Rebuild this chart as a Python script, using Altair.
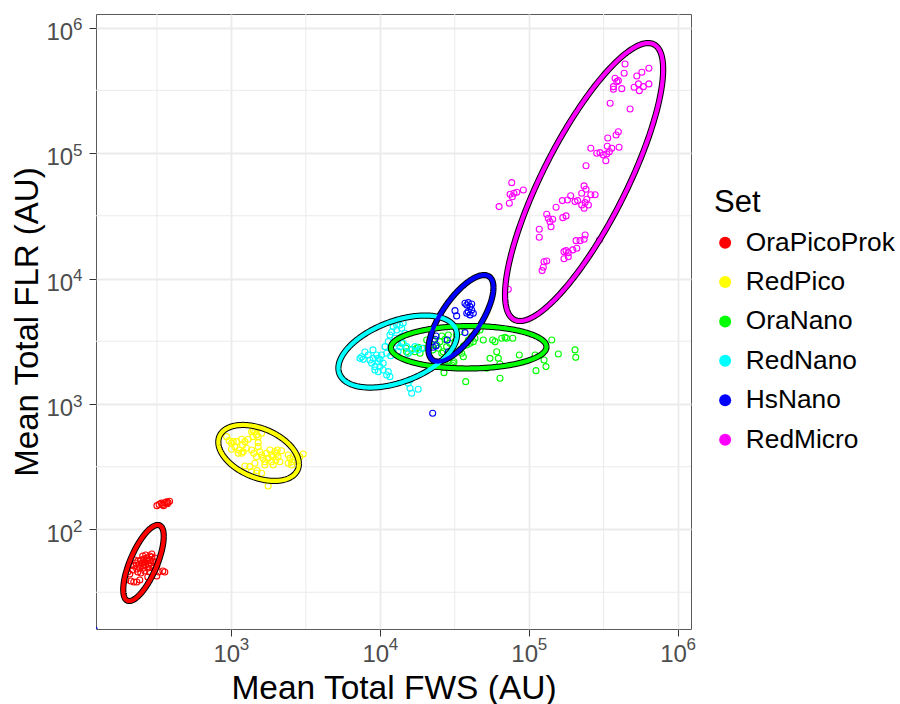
import altair as alt
import numpy as np
import pandas as pd

SETS = ["OraPicoProk", "RedPico", "OraNano", "RedNano", "HsNano", "RedMicro"]
SET_COLORS = ["#FF0000", "#FFFF00", "#00FF00", "#00FFFF", "#0000FF", "#FF00FF"]

# (log10 mean total FWS, log10 mean total FLR) for each particle, per set
ora_pico_prok = [
    (2.345, 1.709), (2.358, 1.733), (2.372, 1.749), (2.378, 1.717), (2.392, 1.757),
    (2.399, 1.733), (2.405, 1.709), (2.412, 1.765), (2.419, 1.741), (2.425, 1.717),
    (2.432, 1.773), (2.439, 1.749), (2.446, 1.725), (2.452, 1.757), (2.459, 1.733),
    (2.466, 1.781), (2.472, 1.749), (2.479, 1.709), (2.385, 1.693), (2.365, 1.685),
    (2.352, 1.757), (2.405, 1.789), (2.425, 1.797), (2.452, 1.789), (2.466, 1.805),
    (2.486, 1.773), (2.493, 1.741), (2.499, 1.709), (2.412, 1.693), (2.439, 1.693),
    (2.325, 1.717), (2.338, 1.677), (2.372, 1.661), (2.304, 1.661), (2.419, 1.669),
    (2.452, 1.661), (2.486, 1.677), (2.513, 1.661), (2.540, 1.669), (2.553, 1.661),
    (2.291, 1.598), (2.325, 1.590), (2.345, 1.582), (2.365, 1.582), (2.385, 1.598),
    (2.439, 1.621), (2.392, 1.653), (2.472, 1.693), (2.499, 1.629), (2.318, 1.645),
    (2.500, 2.190), (2.515, 2.200), (2.530, 2.210), (2.540, 2.200), (2.555, 2.215),
    (2.565, 2.220), (2.575, 2.215), (2.585, 2.225), (2.570, 2.205), (2.545, 2.190),
]
red_pico = [
    (2.968, 2.740), (2.985, 2.708), (3.001, 2.687), (3.024, 2.660), (3.035, 2.700),
    (3.052, 2.634), (3.069, 2.719), (3.075, 2.673), (3.079, 2.620), (3.091, 2.700),
    (3.102, 2.647), (3.113, 2.719), (3.136, 2.779), (3.146, 2.740), (3.158, 2.779),
    (3.169, 2.753), (3.180, 2.692), (3.180, 2.740), (3.136, 2.634), (3.151, 2.607),
    (3.169, 2.580), (3.192, 2.620), (3.203, 2.594), (3.214, 2.567), (3.225, 2.540),
    (3.237, 2.607), (3.247, 2.567), (3.259, 2.634), (3.270, 2.540), (3.281, 2.580),
    (3.292, 2.620), (3.299, 2.554), (3.314, 2.580), (3.326, 2.540), (3.337, 2.628),
    (3.308, 2.634), (3.225, 2.514), (3.158, 2.528), (3.124, 2.501), (3.091, 2.506),
    (3.136, 2.461), (3.169, 2.448), (3.203, 2.448), (3.173, 2.469), (3.247, 2.347),
    (3.382, 2.594), (3.393, 2.567), (3.405, 2.540), (3.415, 2.580), (3.427, 2.554),
    (3.438, 2.594), (3.460, 2.580), (3.482, 2.602), (3.382, 2.528), (3.405, 2.514),
    (3.012, 2.700), (3.001, 2.639), (3.046, 2.607), (3.069, 2.607), (3.146, 2.793),
    (3.180, 2.807), (3.203, 2.767), (3.180, 2.660), (3.270, 2.594), (3.304, 2.607),
    (3.281, 2.514),
]
ora_nano = [
    (4.144, 3.484), (4.173, 3.444), (4.188, 3.404), (4.211, 3.436), (4.233, 3.417),
    (4.255, 3.452), (4.267, 3.404), (4.289, 3.444), (4.356, 3.510), (4.379, 3.470),
    (4.401, 3.497), (4.413, 3.542), (4.435, 3.516), (4.446, 3.457), (4.457, 3.550),
    (4.468, 3.484), (4.435, 3.337), (4.428, 3.250), (4.490, 3.325), (4.502, 3.497),
    (4.536, 3.431), (4.547, 3.404), (4.558, 3.462), (4.581, 3.470), (4.591, 3.510),
    (4.603, 3.484), (4.614, 3.537), (4.625, 3.497), (4.636, 3.524), (4.574, 3.178),
    (4.558, 3.377), (4.648, 3.576), (4.670, 3.590), (4.692, 3.510), (4.715, 3.285),
    (4.737, 3.364), (4.755, 3.510), (4.771, 3.497), (4.782, 3.417), (4.793, 3.364),
    (4.804, 3.319), (4.804, 3.205), (4.816, 3.524), (4.838, 3.532), (4.849, 3.524),
    (4.890, 3.524), (4.934, 3.391), (5.040, 3.391), (5.046, 3.266), (5.100, 3.351),
    (5.113, 3.298), (5.152, 3.510), (5.196, 3.399), (5.308, 3.431), (5.313, 3.372),
    (4.312, 3.510), (4.334, 3.462), (4.352, 3.431), (4.446, 3.298), (4.480, 3.311),
    (4.413, 3.404), (4.390, 3.444), (4.513, 3.550), (4.536, 3.576), (4.480, 3.431),
    (4.423, 3.417), (4.177, 3.417), (4.245, 3.444), (4.495, 3.337),
]
red_nano = [
    (3.864, 3.364), (3.875, 3.377), (3.886, 3.356), (3.919, 3.391), (3.931, 3.351),
    (3.942, 3.325), (3.953, 3.364), (3.964, 3.298), (3.976, 3.391), (3.986, 3.337),
    (3.998, 3.356), (4.009, 3.391), (4.020, 3.325), (3.964, 3.271), (3.986, 3.258),
    (4.020, 3.271), (4.054, 3.258), (4.065, 3.218), (4.032, 3.457), (4.054, 3.497),
    (4.065, 3.550), (4.077, 3.576), (4.087, 3.616), (4.110, 3.590), (4.132, 3.630),
    (4.144, 3.604), (4.099, 3.524), (4.110, 3.484), (4.087, 3.417), (4.132, 3.457),
    (4.154, 3.484), (4.177, 3.457), (4.188, 3.404), (4.211, 3.431), (4.233, 3.457),
    (4.255, 3.431), (4.278, 3.444), (4.144, 3.537), (4.166, 3.564), (4.188, 3.165),
    (4.200, 3.125), (4.211, 3.086), (4.255, 3.117), (4.200, 3.192), (4.043, 3.404),
    (3.998, 3.298), (4.154, 3.643), (4.110, 3.630), (3.986, 3.364), (4.043, 3.231),
    (3.897, 3.415), (3.951, 3.431), (4.070, 3.385), (4.120, 3.420),
]
hs_nano = [
    (4.502, 3.744), (4.513, 3.702), (4.569, 3.803), (4.581, 3.789), (4.591, 3.808),
    (4.603, 3.776), (4.614, 3.797), (4.591, 3.736), (4.614, 3.749), (4.625, 3.723),
    (4.581, 3.723), (4.603, 3.710), (4.569, 3.569), (4.374, 3.542), (4.374, 3.462),
    (4.450, 3.510), (4.457, 3.417), (4.356, 3.452), (4.352, 2.926), (4.367, 3.516),
    (2.080, 1.200),
]
red_micro = [
    (5.644, 5.710), (5.577, 5.596), (5.589, 5.569), (5.599, 5.577), (5.566, 5.529),
    (5.566, 5.508), (5.622, 5.513), (5.638, 5.636), (5.723, 5.614), (5.757, 5.644),
    (5.804, 5.676), (5.734, 5.551), (5.705, 5.524), (5.740, 5.497), (5.767, 5.529),
    (5.804, 5.551), (5.544, 5.397), (5.678, 5.351), (5.599, 5.170), (5.584, 5.144),
    (5.528, 5.120), (5.525, 5.054), (5.555, 5.038), (5.604, 5.046), (5.539, 5.011),
    (5.521, 4.993), (5.498, 4.985), (5.476, 5.003), (5.454, 4.998), (5.414, 5.038),
    (5.515, 4.939), (5.382, 4.899), (5.369, 4.738), (5.353, 4.679), (5.382, 4.711),
    (5.414, 4.668), (5.443, 4.668), (5.387, 4.632), (5.326, 4.621), (5.308, 4.613),
    (5.279, 4.660), (5.257, 4.626), (5.223, 4.621), (5.181, 4.568), (5.398, 4.586),
    (5.369, 4.560), (5.376, 4.605), (5.353, 4.586), (5.248, 4.499), (5.226, 4.485),
    (5.118, 4.512), (5.129, 4.480), (5.140, 4.453), (5.147, 4.413), (5.158, 4.472),
    (5.068, 4.393), (5.068, 4.329), (4.883, 4.764), (4.872, 4.672), (4.887, 4.652),
    (4.898, 4.679), (4.917, 4.688), (4.961, 4.706), (4.867, 4.600), (4.798, 4.573),
    (5.376, 4.347), (5.369, 4.313), (5.342, 4.302), (5.315, 4.302), (5.320, 4.241),
    (5.293, 4.228), (5.263, 4.206), (5.248, 4.222), (5.234, 4.214), (5.263, 4.174),
    (5.234, 4.158), (5.472, 4.307), (5.118, 4.140), (5.100, 4.134), (5.095, 4.090),
    (5.087, 4.063), (4.860, 3.914),
]
SET_POINTS = [ora_pico_prok, red_pico, ora_nano, red_nano, hs_nano, red_micro]

# 95% ellipse of each set, in log10 units: centre, half extent along each
# axis, and cosine of the phase between the two axes (sets the tilt)
ellipse_centre_fws = [2.410, 3.183, 4.594, 4.117, 4.542, 5.369]
ellipse_centre_flr = [1.733, 2.610, 3.452, 3.418, 3.683, 4.769]
ellipse_half_fws = [0.136, 0.2705, 0.5225, 0.398, 0.2184, 0.531]
ellipse_half_flr = [0.303, 0.223, 0.169, 0.287, 0.3446, 1.1076]
ellipse_phase_cos = [0.70, -0.39, 0.02, 0.46, 0.71, 0.81]

x_major = [1e3, 1e4, 1e5, 1e6]
y_major = [1e2, 1e3, 1e4, 1e5, 1e6]
x_minor = [10 ** 2.5, 10 ** 3.5, 10 ** 4.5, 10 ** 5.5]
y_minor = [10 ** 1.5, 10 ** 2.5, 10 ** 3.5, 10 ** 4.5, 10 ** 5.5]

X_MIN, X_MAX = 10 ** 2.091, 10 ** 6.087
Y_MIN, Y_MAX = 10 ** 1.207, 10 ** 6.108

FONT = "Liberation Sans"
TICK_GREY = "#4D4D4D"
GRID = "#EBEBEB"
TICK = 7

points = pd.DataFrame(
    [
        {"Set": name, "FWS": 10 ** lx, "FLR": 10 ** ly}
        for name, pts in zip(SETS, SET_POINTS)
        for lx, ly in pts
    ]
)

theta = np.linspace(0, 2 * np.pi, 241)
ellipse_rows = []
for name, cx, cy, rx, ry, c in zip(
    SETS, ellipse_centre_fws, ellipse_centre_flr,
    ellipse_half_fws, ellipse_half_flr, ellipse_phase_cos,
):
    phase = np.arccos(c)
    for i, t in enumerate(theta):
        ellipse_rows.append(
            {
                "Set": name,
                "step": i,
                "FWS": 10 ** (cx + rx * np.cos(t)),
                "FLR": 10 ** (cy + ry * np.cos(t - phase)),
            }
        )
ellipses = pd.DataFrame(ellipse_rows)

x_scale = alt.Scale(type="log", domain=[X_MIN, X_MAX], nice=False)
y_scale = alt.Scale(type="log", domain=[Y_MIN, Y_MAX], nice=False)

x_axis = alt.Axis(
    values=x_major, labelExpr="'10'", labelFont=FONT, labelFontSize=24,
    labelColor=TICK_GREY, labelAlign="center", labelBaseline="alphabetic",
    labelOffset=-5, labelPadding=32.5 - TICK, labelOverlap=False, labelFlush=False,
    tickColor="#333333", tickSize=TICK, tickWidth=1, domain=False,
    grid=True, gridColor=GRID, gridWidth=1.8,
    title="Mean Total FWS (AU)", titleFont=FONT, titleFontSize=33.5,
    titleFontWeight="normal", titleColor="black", titleX=297.5, titleY=69,
    titleAlign="center", titleBaseline="alphabetic",
)
y_axis = alt.Axis(
    values=y_major, labelExpr="'10'", labelFont=FONT, labelFontSize=24,
    labelColor=TICK_GREY, labelAlign="right", labelBaseline="alphabetic",
    labelOffset=11.7, labelPadding=23.3 - TICK, labelOverlap=False, labelFlush=False,
    tickColor="#333333", tickSize=TICK, tickWidth=1, domain=False,
    grid=True, gridColor=GRID, gridWidth=1.8,
    title="Mean Total FLR (AU)", titleFont=FONT, titleFontSize=33,
    titleFontWeight="normal", titleColor="black", titleAngle=270,
    titleX=-58.5, titleY=307.5, titleAlign="center", titleBaseline="alphabetic",
)


def enc_x():
    return alt.X("FWS:Q", scale=x_scale, axis=x_axis, title="Mean Total FWS (AU)")


def enc_y():
    return alt.Y("FLR:Q", scale=y_scale, axis=y_axis, title="Mean Total FLR (AU)")


color_scale = alt.Scale(domain=SETS, range=SET_COLORS)

minor_x = alt.Chart(pd.DataFrame({"FWS": x_minor})).mark_rule(
    color=GRID, strokeWidth=1
).encode(x=enc_x())
minor_y = alt.Chart(pd.DataFrame({"FLR": y_minor})).mark_rule(
    color=GRID, strokeWidth=1
).encode(y=enc_y())

dots = alt.Chart(points).mark_point(
    filled=False, shape="circle", size=36, strokeWidth=1.1, opacity=1, clip=True
).encode(
    x=enc_x(), y=enc_y(),
    color=alt.Color("Set:N", scale=color_scale, legend=None),
)

# legend only: every row is missing its position, so no mark is drawn
legend_rows = pd.DataFrame({"Set": SETS, "FWS": [np.nan] * 6, "FLR": [np.nan] * 6})
legend_layer = alt.Chart(legend_rows).mark_circle(size=144, opacity=1).encode(
    x=enc_x(), y=enc_y(),
    color=alt.Color(
        "Set:N", scale=color_scale,
        legend=alt.Legend(
            title="Set", orient="none", legendX=618, legendY=174, padding=0,
            titleFont=FONT, titleFontSize=31, titleFontWeight="normal",
            titleColor="black", titlePadding=10.5,
            labelFont=FONT, labelFontSize=26.3, labelColor="black", labelOffset=7.5,
            symbolType="circle", symbolSize=144, symbolOffset=-2,
            symbolStrokeWidth=0, rowPadding=12.4,
        ),
    ),
)

ellipse_outline = alt.Chart(ellipses).mark_line(
    color="black", strokeWidth=6.2, clip=True
).encode(x=enc_x(), y=enc_y(), detail="Set:N", order="step:Q")

ellipse_line = alt.Chart(ellipses).mark_line(strokeWidth=4.2, clip=True).encode(
    x=enc_x(), y=enc_y(),
    color=alt.Color("Set:N", scale=color_scale, legend=None),
    order="step:Q",
)

x_powers = pd.DataFrame(
    {"FWS": x_major, "FLR": [Y_MIN] * 4, "power": ["3", "4", "5", "6"]}
)
y_powers = pd.DataFrame(
    {"FWS": [X_MIN] * 5, "FLR": y_major, "power": ["2", "3", "4", "5", "6"]}
)
x_power_text = alt.Chart(x_powers).mark_text(
    align="left", baseline="alphabetic", dx=8.5, dy=20.5,
    font=FONT, fontSize=17, color=TICK_GREY,
).encode(x=enc_x(), y=enc_y(), text="power:N")
y_power_text = alt.Chart(y_powers).mark_text(
    align="left", baseline="alphabetic", dx=-23, dy=2.7,
    font=FONT, fontSize=17, color=TICK_GREY,
).encode(x=enc_x(), y=enc_y(), text="power:N")

chart = (
    alt.layer(
        minor_x, minor_y, dots, legend_layer, ellipse_outline, ellipse_line,
        x_power_text, y_power_text,
    )
    .resolve_legend(color="independent")
    .properties(
        width=595,
        height=615,
        autosize=alt.AutoSizeParams(type="none"),
        padding={"left": 96, "top": 14, "right": 209, "bottom": 75},
        background="white",
    )
    .configure_view(stroke="#5A5A5A", strokeWidth=1)
)

chart.save("out.html", embed_options={"renderer": "svg", "actions": False})
